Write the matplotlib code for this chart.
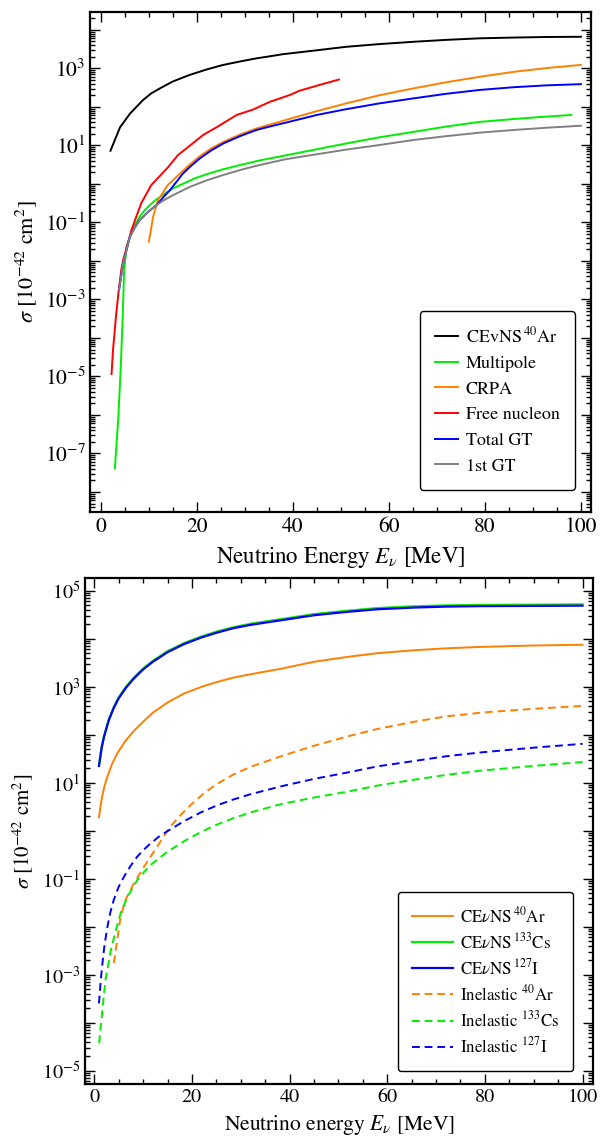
import numpy as np
import matplotlib
matplotlib.use("Agg")
import matplotlib.pyplot as plt
from matplotlib.ticker import FixedLocator, FuncFormatter, LogLocator, MultipleLocator

plt.rcParams['font.family'] = ['STIXGeneral', 'DejaVu Serif']
plt.rcParams['mathtext.fontset'] = 'stix'

# ---------------- top panel: 40Ar cross sections ----------------
cevns_E = [2.0, 4.0, 6.1, 8.8, 10.5, 12.3, 15.0, 18.5, 22.0, 25.5, 29.0, 32.4, 35.0, 38.0,
           45.0, 51.1, 58.0, 65.1, 72.0, 78.9, 86.0, 93.0, 100]
cevns_s = [7.24, 29.5, 67.6, 151, 224, 302, 457, 676, 933, 1230, 1510, 1820, 2040, 2340,
           2950, 3630, 4270, 4900, 5500, 6030, 6310, 6530, 6610]

multi_E = [2.92, 3.65, 4.15, 4.55, 4.86, 5.36, 6.37, 7.2, 8.09, 9.1, 10.2, 11.5, 12.9, 15.0,
           17.2, 19.5, 22.0, 25.5, 29.0, 33.5, 38.5, 45.0, 51.1, 58.0, 65.1, 72.0, 78.9,
           86.0, 92.0, 98.0]
multi_s = [4.07e-8, 8.9e-7, 1.78e-5, 3.55e-4, 5.75e-3, 0.0234, 0.0513, 0.0891, 0.141, 0.204,
           0.282, 0.389, 0.513, 0.759, 1.02, 1.38, 1.78, 2.40, 3.09, 4.17, 5.50, 7.94, 11.2,
           16.2, 22.4, 30.9, 40.7, 48.4, 55.0, 61.7]

crpa_E = [10.0, 10.9, 11.9, 13.95, 16.5, 18.5, 20.6, 23.0, 25.5, 29.0, 32.4, 35.5, 38.5,
          45.0, 51.1, 58.0, 65.1, 72.0, 78.9, 86.0, 93.0, 100]
crpa_s = [0.0316, 0.141, 0.38, 0.933, 1.86, 3.16, 5.25, 8.32, 12.3, 19.1, 27.5, 35.5, 45.7,
          77.6, 123, 200, 302, 437, 603, 813, 1023, 1230]

free_E = [2.23, 2.53, 3.14, 3.65, 4.25, 4.65, 6.37, 8.39, 10.5, 14.05, 16.07, 18.2, 21.3,
          24.5, 28.3, 31.7, 35.2, 39.4, 41.4, 45.6, 49.6]
free_s = [1.15e-5, 4.8e-5, 3.5e-4, 1.45e-3, 5.8e-3, 0.0105, 0.063, 0.31, 0.93, 2.75, 5.6,
          9.1, 18.6, 31.6, 61.7, 85, 135, 204, 263, 372, 513]

totgt_E = [3.8, 4.65, 5.35, 6.04, 7.0, 8.1, 9.8, 11.6, 13.0, 14.4, 15.8, 17.1, 18.8, 20.6,
           23.0, 25.5, 29.0, 32.4, 35.5, 38.5, 45.0, 51.1, 58.0, 65.1, 72.0, 78.9, 86.0,
           93.0, 100]
totgt_s = [1.82e-3, 8.71e-3, 0.0191, 0.0427, 0.0708, 0.115, 0.186, 0.282, 0.447, 0.692,
           1.15, 1.86, 2.95, 4.57, 7.41, 11.2, 17.4, 25.1, 31.6, 38.9, 61.7, 87.1, 123, 166,
           219, 275, 324, 363, 389]

gt1_E = [3.8, 4.65, 5.35, 6.04, 7.0, 8.1, 9.8, 11.6, 13.3, 15.1, 18.5, 22.0, 25.5, 29.0,
         32.4, 38.5, 45.0, 51.1, 58.0, 65.1, 72.0, 78.9, 86.0, 93.0, 100]
gt1_s = [1.82e-3, 8.71e-3, 0.0191, 0.0427, 0.0708, 0.115, 0.186, 0.282, 0.389, 0.513, 0.832,
         1.23, 1.70, 2.29, 2.95, 4.37, 5.89, 7.76, 10.2, 13.8, 17.4, 21.4, 25.1, 28.8, 32.4]

# ---------------- bottom panel: CEvNS vs inelastic ----------------
ar_E = [0.96, 1.3, 1.6, 2.1, 2.7, 3.6, 4.7, 6.3, 8.1, 10.0, 12.0, 15.0, 18.4, 22.0, 25.2,
        28.5, 32.0, 38.5, 45.0, 51.7, 58.0, 65.4, 72.0, 79.1, 90.0, 100]
ar_s = [1.91, 3.31, 5.13, 8.51, 13.5, 24.0, 40.7, 72.4, 120, 186, 288, 468, 724, 1000, 1260,
        1550, 1820, 2400, 3310, 4170, 5010, 5750, 6310, 6760, 7240, 7500]

grid_E = [0.96, 1.5, 2.0, 3.0, 4.0, 5.0, 6.5, 8.0, 10.0, 12.0, 15.0, 18.4, 22.0, 25.2, 28.5,
          32.0, 38.5, 45.0, 51.7, 58.0, 65.4, 72.0, 79.1, 90.0, 100]
cs_s = [22.4, 54, 94, 212, 378, 600, 1000, 1510, 2400, 3470, 5500, 8130, 11200, 14200, 17400,
        20500, 25800, 32600, 38300, 43600, 47300, 49600, 50800, 51400, 52000]
i_s = [22.4, 52.5, 91.2, 204, 363, 575, 955, 1445, 2290, 3310, 5250, 7760, 10700, 13500,
       16600, 19500, 24500, 30900, 36300, 41200, 44700, 46800, 47900, 48400, 49000]

inel_ar_E = [4.0, 4.7, 5.4, 6.4, 8.1, 10.2, 12.9, 15.3, 17.0, 18.4, 20.0, 21.1, 23.0, 25.2,
             28.5, 32.0, 38.5, 45.0, 51.7, 58.0, 65.4, 72.0, 79.1, 90.0, 100]
inel_ar_s = [1.74e-3, 5.25e-3, 0.0162, 0.0363, 0.0794, 0.178, 0.468, 1.12, 1.78, 2.51, 3.63,
             4.57, 6.61, 9.55, 14.8, 21.4, 36.3, 58.9, 91.2, 132, 186, 240, 288, 347, 398]

inel_cs_E = [1.0, 1.3, 1.6, 2.3, 3.4, 4.4, 5.4, 6.8, 8.8, 10.2, 11.6, 13.3, 15.0, 18.4, 21.8,
             25.2, 28.5, 32.0, 38.5, 45.0, 51.7, 58.0, 65.4, 72.0, 79.1, 90.0, 100]
inel_cs_s = [3.72e-5, 7.94e-5, 1.58e-4, 7.76e-4, 3.24e-3, 8.32e-3, 0.0191, 0.0417, 0.0933,
             0.138, 0.195, 0.269, 0.363, 0.603, 0.933, 1.35, 1.82, 2.40, 3.63, 4.90, 6.46,
             8.71, 11.5, 14.5, 17.8, 22.4, 26.9]

inel_i_E = [0.96, 1.3, 1.6, 2.1, 2.7, 3.3, 4.0, 5.0, 6.1, 7.4, 8.8, 10.2, 11.6, 13.3, 15.0,
            18.4, 21.8, 25.2, 28.5, 32.0, 38.5, 45.0, 51.7, 58.0, 65.4, 72.0, 79.1, 90.0, 100]
inel_i_s = [2.51e-4, 7.08e-4, 1.48e-3, 4.17e-3, 0.01, 0.02, 0.0363, 0.0676, 0.11, 0.182,
            0.288, 0.407, 0.55, 0.759, 0.977, 1.58, 2.40, 3.39, 4.47, 5.75, 8.51, 12.0, 16.2,
            21.9, 28.2, 35.5, 42.7, 53.7, 64.6]

orange = '#ff8000'
green = '#00ee00'


def frame(ax, lo, hi, fs):
    ax.set_yscale('log')
    ax.yaxis.set_major_locator(FixedLocator([10.0**k for k in range(lo, hi + 1)]))
    ax.yaxis.set_major_formatter(FuncFormatter(
        lambda v, p: r'$10^{%d}$' % round(np.log10(v)) if round(np.log10(v)) % 2 else ''))
    ax.yaxis.set_minor_locator(LogLocator(base=10, subs=np.arange(2, 10), numticks=40))
    ax.yaxis.set_minor_formatter(FuncFormatter(lambda v, p: ''))
    ax.xaxis.set_major_locator(MultipleLocator(20))
    ax.xaxis.set_minor_locator(MultipleLocator(5))
    ax.tick_params(which='both', direction='in', top=True, right=True, labelsize=fs,
                   width=1.0)
    ax.tick_params(which='major', length=7)
    ax.tick_params(which='minor', length=3.5)
    for s in ax.spines.values():
        s.set_linewidth(1.6)


fig = plt.figure(figsize=(6.08, 11.42), dpi=100)

ax1 = fig.add_axes([0.1485, 0.5517, 0.8235, 0.438])
ax1.plot(cevns_E, cevns_s, color='k', lw=1.4, label=r'CEvNS$\,^{40}$Ar')
ax1.plot(multi_E, multi_s, color=green, lw=1.4, label='Multipole')
ax1.plot(crpa_E, crpa_s, color=orange, lw=1.4, label='CRPA')
ax1.plot(free_E, free_s, color='#ff0000', lw=1.4, label='Free nucleon')
ax1.plot(totgt_E, totgt_s, color='#0000ff', lw=1.4, label='Total GT')
ax1.plot(gt1_E, gt1_s, color='#808080', lw=1.4, label='1st GT')
ax1.set_xlim(-2.2, 102.1)
ax1.set_ylim(10**-8.52, 10**4.47)
frame(ax1, -8, 4, 15.5)
ax1.set_xlabel(r'Neutrino Energy $E_\nu$ [MeV]', fontsize=16.5, labelpad=6)
ax1.set_ylabel(r'$\sigma\ [10^{-42}\ \mathrm{cm}^2]$', fontsize=16, labelpad=3)
leg1 = ax1.legend(loc='lower right', bbox_to_anchor=(0.968, 0.044), borderaxespad=0,
                  fontsize=13, handlelength=1.25, handletextpad=0.45, labelspacing=0.5,
                  borderpad=0.85, fancybox=True, framealpha=1, edgecolor='k')
leg1.get_frame().set_linewidth(1.0)

ax2 = fig.add_axes([0.1398, 0.0508, 0.836, 0.4428])
ax2.plot(ar_E, ar_s, color=orange, lw=1.4, label=r'CE$\nu$NS$\,^{40}$Ar')
ax2.plot(grid_E, cs_s, color=green, lw=1.6, label=r'CE$\nu$NS$\,^{133}$Cs')
ax2.plot(grid_E, i_s, color='#0000ff', lw=1.6, label=r'CE$\nu$NS$\,^{127}$I')
ax2.plot(inel_ar_E, inel_ar_s, color=orange, lw=1.4, dashes=(4, 2.5),
         label=r'Inelastic $^{40}$Ar')
ax2.plot(inel_cs_E, inel_cs_s, color=green, lw=1.4, dashes=(4, 2.5),
         label=r'Inelastic $^{133}$Cs')
ax2.plot(inel_i_E, inel_i_s, color='#0000ff', lw=1.4, dashes=(4, 2.5),
         label=r'Inelastic $^{127}$I')
ax2.set_xlim(-1.9, 102.2)
ax2.set_ylim(10**-5.28, 10**5.26)
frame(ax2, -6, 5, 14.5)
ax2.set_xlabel(r'Neutrino energy $E_\nu$ [MeV]', fontsize=15.5, labelpad=5)
ax2.set_ylabel(r'$\sigma\ [10^{-42}\ \mathrm{cm}^2]$', fontsize=15, labelpad=4)
leg2 = ax2.legend(loc='lower right', bbox_to_anchor=(0.961, 0.0257), borderaxespad=0,
                  fontsize=12.2, handlelength=2.4, handletextpad=0.4, labelspacing=0.36,
                  borderpad=0.85, fancybox=True, framealpha=1, edgecolor='k')
leg2.get_frame().set_linewidth(1.0)

fig.savefig('out.png', dpi=100)
